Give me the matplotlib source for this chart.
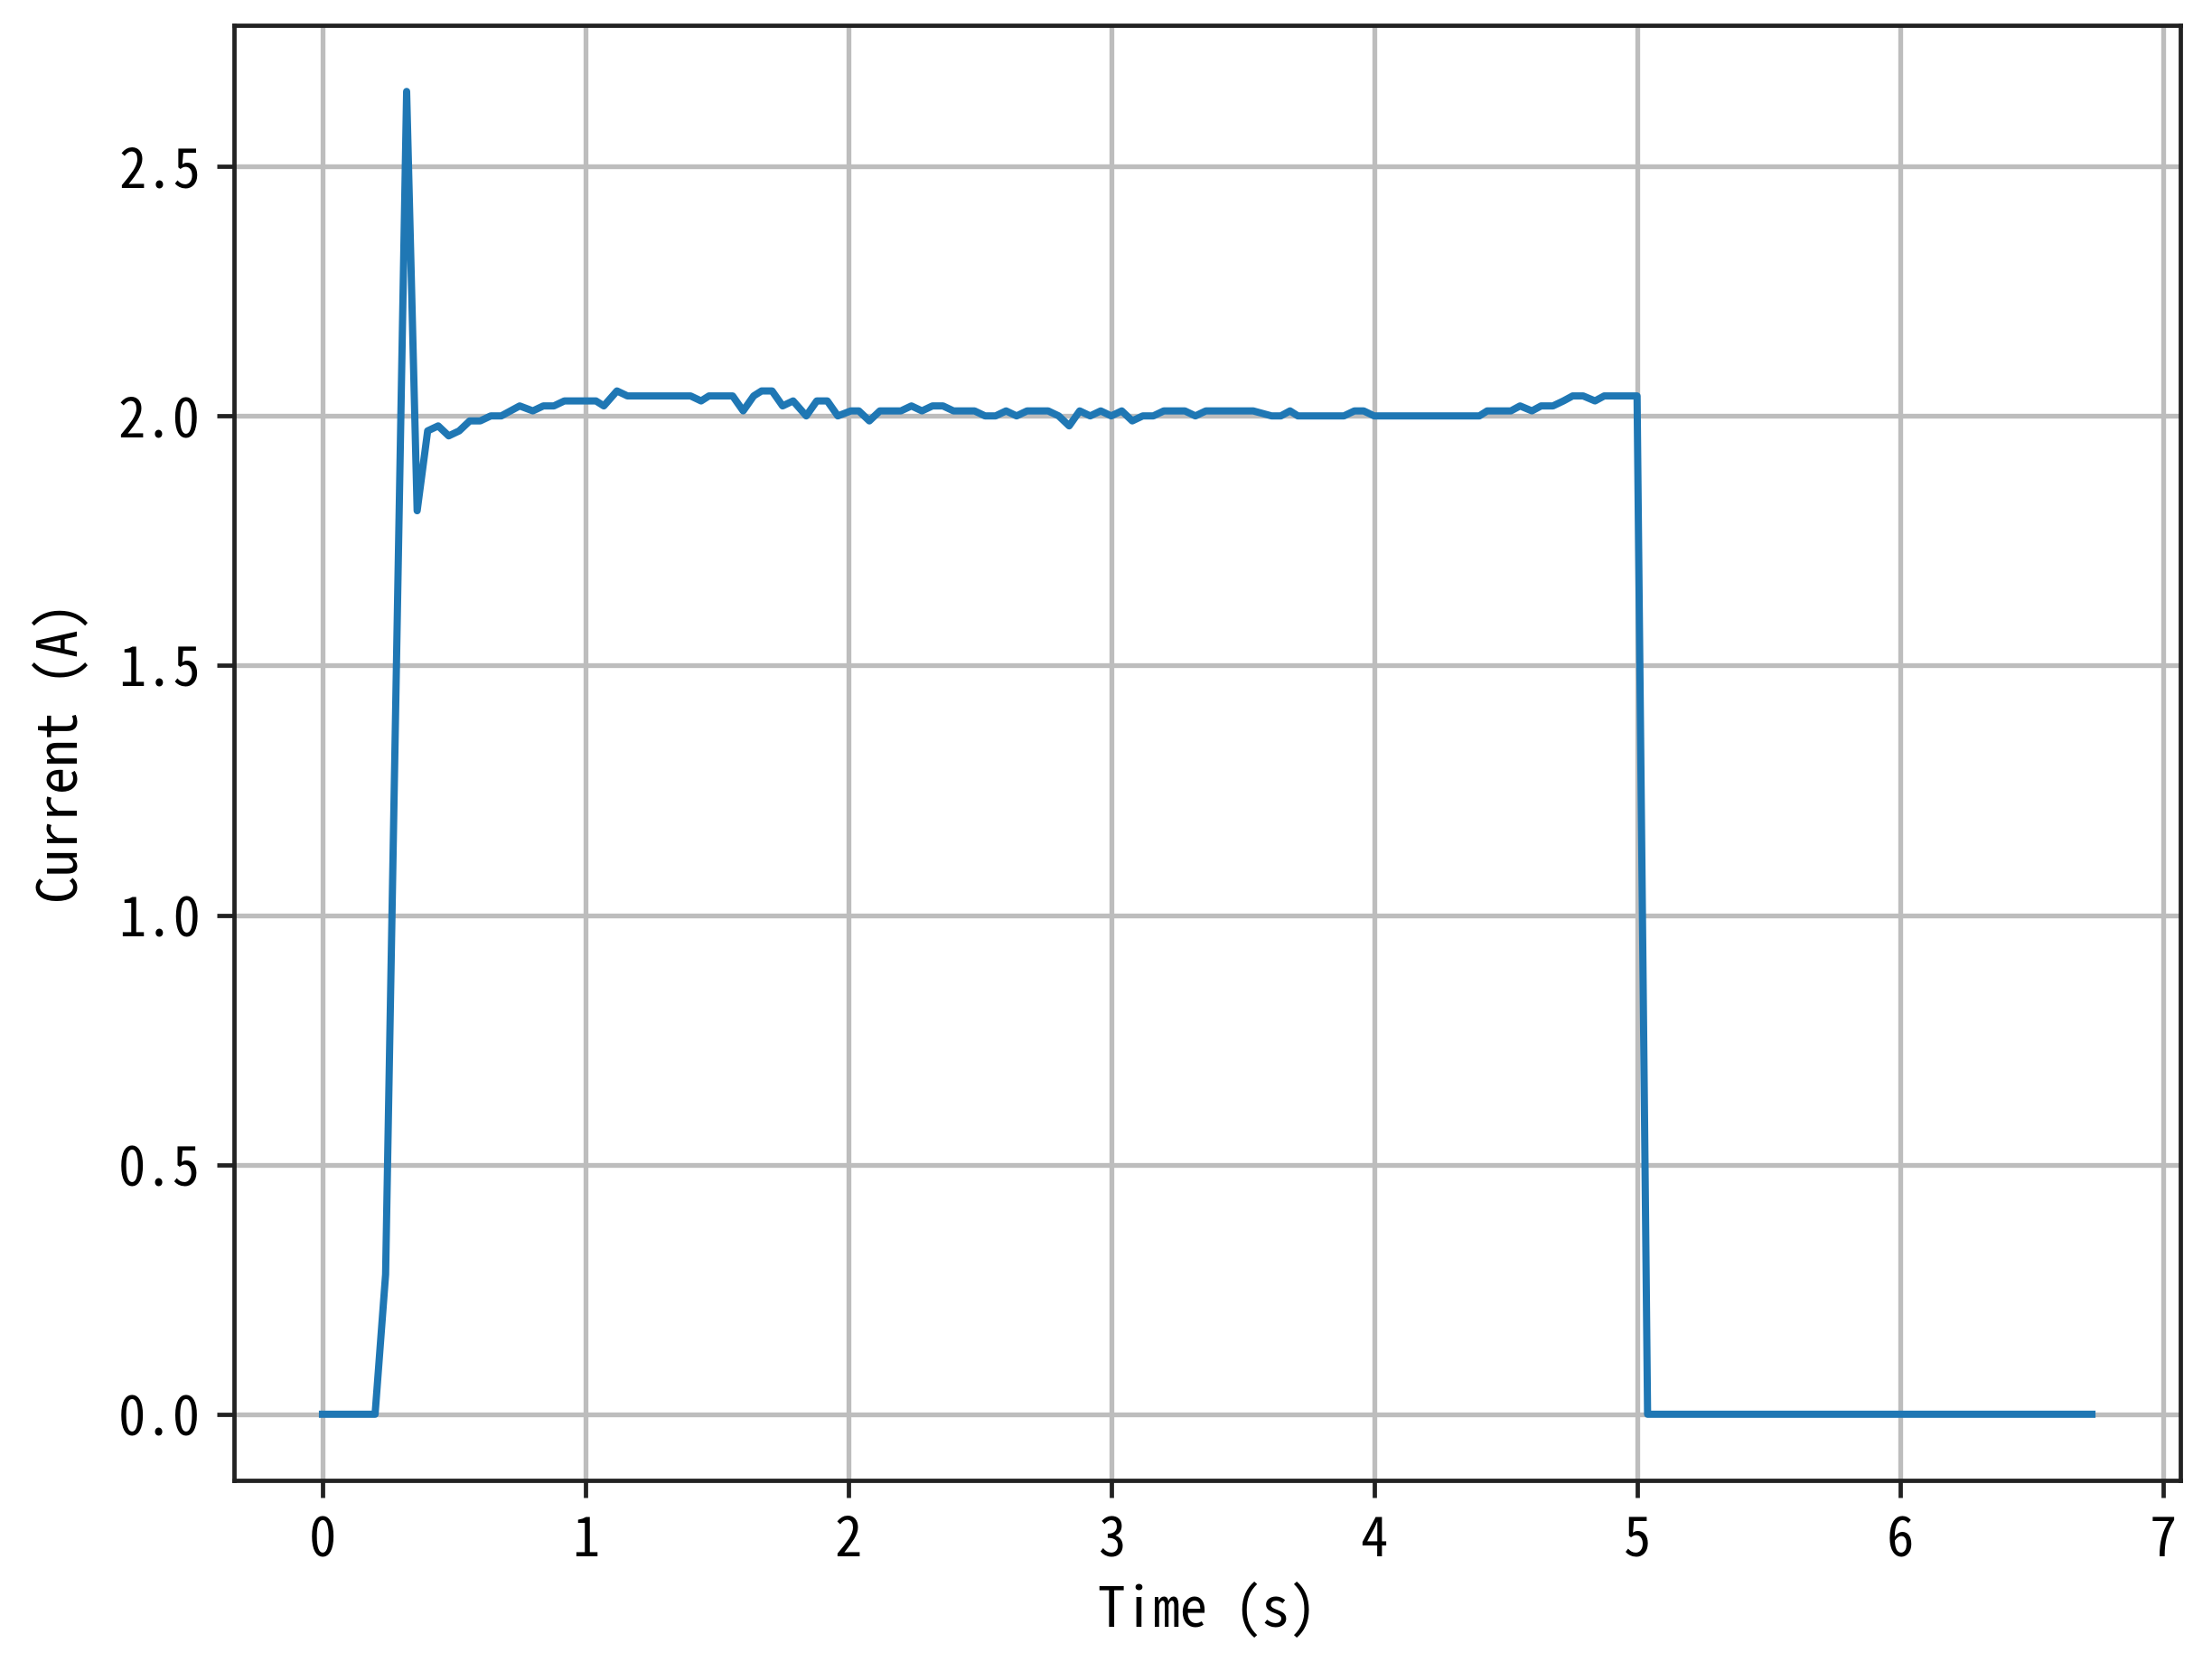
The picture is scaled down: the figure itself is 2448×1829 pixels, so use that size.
import matplotlib
matplotlib.use("Agg")
import matplotlib.pyplot as plt

plt.rcParams['font.family'] = ['Noto Sans Mono CJK SC', 'DejaVu Sans Mono', 'DejaVu Sans']
plt.rcParams['axes.unicode_minus'] = False
plt.rcParams['font.size'] = 11.4

time_s = [0.0, 0.20, 0.24, 0.32, 0.36, 0.40, 0.44, 0.48, 0.52, 0.56, 0.60, 0.64, 0.68,
          0.75, 0.80, 0.84, 0.88, 0.92, 1.04, 1.07, 1.12, 1.16, 1.40, 1.44, 1.47, 1.56,
          1.60, 1.64, 1.67, 1.71, 1.75, 1.79, 1.84, 1.88, 1.92, 1.96, 2.01, 2.04, 2.08,
          2.12, 2.20, 2.24, 2.28, 2.32, 2.36, 2.40, 2.48, 2.52, 2.56, 2.60, 2.64, 2.68,
          2.76, 2.80, 2.84, 2.88, 2.92, 2.96, 3.00, 3.04, 3.08, 3.12, 3.16, 3.20, 3.28,
          3.32, 3.36, 3.54, 3.61, 3.645, 3.68, 3.71, 3.885, 3.925, 3.96, 4.00, 4.40,
          4.43, 4.52, 4.555, 4.60, 4.635, 4.68, 4.72, 4.755, 4.795, 4.84, 4.875, 5.00,
          5.04, 6.73]
current_a = [0.0, 0.0, 0.28, 2.65, 1.81, 1.97, 1.98, 1.96, 1.97, 1.99, 1.99, 2.00, 2.00,
             2.02, 2.01, 2.02, 2.02, 2.03, 2.03, 2.02, 2.05, 2.04, 2.04, 2.03, 2.04, 2.04,
             2.01, 2.04, 2.05, 2.05, 2.02, 2.03, 2.00, 2.03, 2.03, 2.00, 2.01, 2.01, 1.99,
             2.01, 2.01, 2.02, 2.01, 2.02, 2.02, 2.01, 2.01, 2.00, 2.00, 2.01, 2.00, 2.01,
             2.01, 2.00, 1.98, 2.01, 2.00, 2.01, 2.00, 2.01, 1.99, 2.00, 2.00, 2.01, 2.01,
             2.00, 2.01, 2.01, 2.00, 2.00, 2.01, 2.00, 2.00, 2.01, 2.01, 2.00, 2.00,
             2.01, 2.01, 2.02, 2.01, 2.02, 2.02, 2.03, 2.04, 2.04, 2.03, 2.04, 2.04,
             0.0, 0.0]

xticks = [0, 1, 2, 3, 4, 5, 6, 7]
yticks = [0.0, 0.5, 1.0, 1.5, 2.0, 2.5]

dpi = 382.5
fig = plt.figure(figsize=(2448 / dpi, 1829 / dpi), dpi=dpi)
W, H = 2448, 1829
ax = fig.add_axes([259 / W, 1 - 1638 / H, (2413 - 259) / W, (1638 - 28) / H])

ax.plot(time_s, current_a, color='#1f77b4', linewidth=1.5)
ax.set_xticks(xticks)
ax.set_yticks(yticks)
ax.set_xticklabels([str(t) for t in xticks])
ax.set_yticklabels([f"{v:.1f}" for v in yticks])
ax.grid(True, color='#bdbdbd', linewidth=1.0)
for s in ax.spines.values():
    s.set_color('#222222')
    s.set_linewidth(0.9)
ax.tick_params(color='#222222', width=0.9)
ax.set_xlabel('Time (s)', labelpad=3)
ax.set_ylabel('Current (A)', labelpad=6)

fig.savefig('out.png', dpi=dpi)
